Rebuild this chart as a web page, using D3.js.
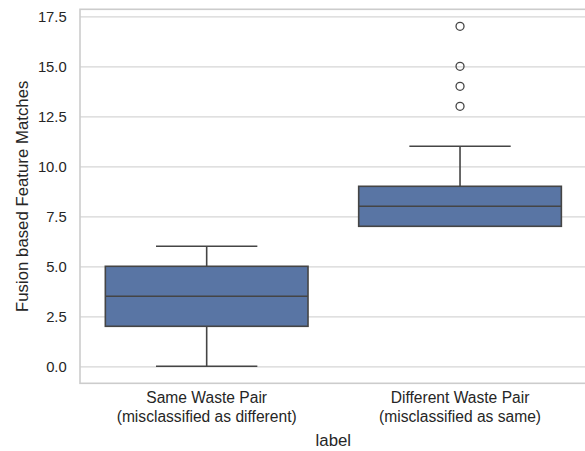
<!DOCTYPE html>
<html>
<head>
<meta charset="utf-8">
<script src="https://cdn.jsdelivr.net/npm/d3@7"></script>
<style>
  body { margin: 0; background: #fff; }
  svg { display: block; font-family: "Liberation Sans", Arial, sans-serif; }
</style>
</head>
<body>
<svg id="box-chart"></svg>
<script>
    // Box summaries (one entry per category)
    const categories = ["Same Waste Pair\n(misclassified as different)", "Different Waste Pair\n(misclassified as same)"];
    const whiskerLow = [0, 7];
    const q1 = [2, 7];
    const median = [3.5, 8];
    const q3 = [5, 9];
    const whiskerHigh = [6, 11];
    const outliers = [[], [13, 14, 15, 17]];
    const yTicks = [0, 2.5, 5, 7.5, 10, 12.5, 15, 17.5];

    const boxData = categories.map((c, i) => ({
        cat: c, lo: whiskerLow[i], q1: q1[i], med: median[i], q3: q3[i], hi: whiskerHigh[i], out: outliers[i]
    }));

    // Container dimensions
    const chartWidth = 585;
    const chartHeight = 451;
    const margin = { top: 9.3, right: -1.7, bottom: 67.7, left: 80 };
    const innerWidth = chartWidth - margin.left - margin.right;
    const innerHeight = chartHeight - margin.top - margin.bottom;

    const boxFill = "#5975a4";
    const lineColor = "#454545";

    const svg = d3.select('#box-chart')
        .attr('width', chartWidth)
        .attr('height', chartHeight);

    const chart = svg.append('g')
        .attr('transform', `translate(${margin.left}, ${margin.top})`);

    // Scales (5% margin on the value axis like matplotlib)
    const xScale = d3.scaleBand()
        .domain(categories)
        .range([0, innerWidth])
        .padding(0);

    const yScale = d3.scaleLinear()
        .domain([-0.85, 17.85])
        .range([innerHeight, 0]);

    // Horizontal grid lines
    chart.append('g')
        .attr('class', 'grid')
        .call(d3.axisLeft(yScale).tickValues(yTicks).tickSize(-innerWidth).tickFormat(''))
        .call(g => g.select('.domain').remove())
        .call(g => g.selectAll('text').remove())
        .call(g => g.selectAll('line').attr('stroke', '#d6d6d6').attr('stroke-width', 1.3));

    // Y axis labels
    chart.append('g')
        .attr('class', 'y-axis')
        .call(d3.axisLeft(yScale).tickValues(yTicks).tickSize(0).tickPadding(13.3).tickFormat(d3.format('.1f')))
        .call(g => g.select('.domain').remove())
        .call(g => g.selectAll('text').attr('fill', '#262626').style('font-size', '14.8px'));

    // X axis category labels (two lines each)
    const xAxis = chart.append('g')
        .attr('class', 'x-axis')
        .attr('transform', `translate(0, ${innerHeight})`)
        .call(d3.axisBottom(xScale).tickSize(0).tickFormat(''))
        .call(g => g.select('.domain').remove())
        .call(g => g.selectAll('text').remove());

    xAxis.selectAll('.tick')
        .append('text')
        .attr('fill', '#262626')
        .attr('text-anchor', 'middle')
        .style('font-size', '15.6px')
        .selectAll('tspan')
        .data(d => d.split('\n'))
        .enter()
        .append('tspan')
        .attr('x', 0)
        .attr('y', (d, i) => 19.7 + i * 19)
        .text(d => d);

    const bw = xScale.bandwidth() * 0.8;
    const cx = d => xScale(d.cat) + xScale.bandwidth() / 2;

    const boxes = chart.selectAll('.box')
        .data(boxData)
        .enter()
        .append('g')
        .attr('class', 'box');

    // whiskers
    boxes.append('line')
        .attr('x1', cx).attr('x2', cx)
        .attr('y1', d => yScale(d.lo)).attr('y2', d => yScale(d.q1))
        .attr('stroke', lineColor).attr('stroke-width', 1.6);
    boxes.append('line')
        .attr('x1', cx).attr('x2', cx)
        .attr('y1', d => yScale(d.q3)).attr('y2', d => yScale(d.hi))
        .attr('stroke', lineColor).attr('stroke-width', 1.6);

    // caps
    ['lo', 'hi'].forEach(k => {
        boxes.append('line')
            .attr('x1', d => cx(d) - bw / 4).attr('x2', d => cx(d) + bw / 4)
            .attr('y1', d => yScale(d[k])).attr('y2', d => yScale(d[k]))
            .attr('stroke', lineColor).attr('stroke-width', 1.6);
    });

    // box body
    boxes.append('rect')
        .attr('x', d => cx(d) - bw / 2)
        .attr('width', bw)
        .attr('y', d => yScale(d.q3))
        .attr('height', d => yScale(d.q1) - yScale(d.q3))
        .attr('fill', boxFill)
        .attr('stroke', lineColor)
        .attr('stroke-width', 1.6);

    // median
    boxes.append('line')
        .attr('x1', d => cx(d) - bw / 2).attr('x2', d => cx(d) + bw / 2)
        .attr('y1', d => yScale(d.med)).attr('y2', d => yScale(d.med))
        .attr('stroke', lineColor).attr('stroke-width', 1.6);

    // outliers
    boxes.selectAll('.flier')
        .data(d => d.out.map(v => ({ cat: d.cat, v: v })))
        .enter()
        .append('circle')
        .attr('class', 'flier')
        .attr('cx', cx)
        .attr('cy', d => yScale(d.v))
        .attr('r', 4)
        .attr('fill', 'none')
        .attr('stroke', lineColor)
        .attr('stroke-width', 1.3);

    // Frame (whitegrid spines)
    chart.append('rect')
        .attr('x', 0).attr('y', 0)
        .attr('width', innerWidth).attr('height', innerHeight)
        .attr('fill', 'none')
        .attr('stroke', '#cccccc')
        .attr('stroke-width', 1.6);

    // X-axis label
    svg.append("text")
        .attr("x", margin.left + innerWidth / 2)
        .attr("y", 446)
        .attr("fill", "#262626")
        .style("text-anchor", "middle")
        .style("font-size", "16.8px")
        .text("label");

    // Y-axis label
    svg.append("text")
        .attr("x", -(margin.top + innerHeight / 2))
        .attr("y", 28)
        .attr("transform", "rotate(-90)")
        .attr("fill", "#262626")
        .style("text-anchor", "middle")
        .style("font-size", "16.8px")
        .text("Fusion based Feature Matches");
</script>
</body>
</html>
